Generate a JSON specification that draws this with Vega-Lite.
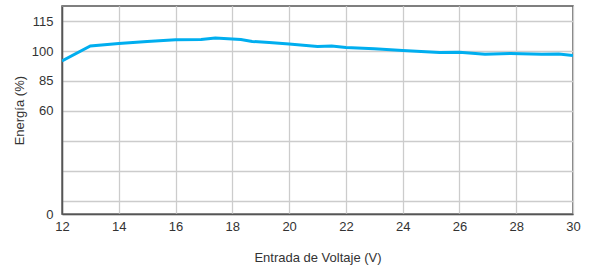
{
  "$schema": "https://vega.github.io/schema/vega-lite/v6.json",
  "width": 511,
  "height": 208,
  "autosize": {"type": "none"},
  "padding": {"left": 62, "top": 6, "right": 17, "bottom": 57},
  "config": {
    "font": "Liberation Sans",
    "view": {"stroke": "#555555", "strokeWidth": 1.5},
    "axis": {
      "labelFont": "Liberation Sans",
      "titleFont": "Liberation Sans",
      "labelFontSize": 13,
      "titleFontSize": 13,
      "labelColor": "#333333",
      "titleColor": "#333333",
      "titleFontWeight": "normal",
      "gridColor": "#cccccc",
      "gridWidth": 1.3,
      "domainColor": "#555555",
      "domainWidth": 1.5,
      "ticks": false,
      "labelFlush": false
    }
  },
  "data": {
    "values": [
      {"v": 12, "e": 95.0},
      {"v": 13, "e": 102.5},
      {"v": 14, "e": 103.7},
      {"v": 15, "e": 104.8},
      {"v": 16, "e": 105.6},
      {"v": 16.9, "e": 105.8},
      {"v": 17.4, "e": 106.5},
      {"v": 18.3, "e": 105.7},
      {"v": 18.7, "e": 104.8},
      {"v": 19.3, "e": 104.2},
      {"v": 20, "e": 103.5},
      {"v": 21, "e": 102.2},
      {"v": 21.5, "e": 102.5},
      {"v": 22, "e": 101.8},
      {"v": 23, "e": 101.1},
      {"v": 24, "e": 100.2},
      {"v": 25.3, "e": 99.2},
      {"v": 26, "e": 99.4},
      {"v": 26.9, "e": 98.4},
      {"v": 27.8, "e": 98.8},
      {"v": 28.9, "e": 98.4},
      {"v": 29.5, "e": 98.5},
      {"v": 30, "e": 97.7}
    ]
  },
  "mark": {"type": "line", "color": "#00aeef", "strokeWidth": 3, "clip": true},
  "encoding": {
    "x": {
      "field": "v",
      "type": "quantitative",
      "title": "Entrada de Voltaje (V)",
      "scale": {"domain": [12, 30], "nice": false, "zero": false},
      "axis": {
        "values": [12, 14, 16, 18, 20, 22, 24, 26, 28, 30],
        "labelPadding": 6,
        "titlePadding": 18
      }
    },
    "y": {
      "field": "e",
      "type": "quantitative",
      "title": "Energía (%)",
      "scale": {
        "domain": [0, 15, 30, 45, 60, 85, 100, 115, 122.5],
        "range": [208.3, 194.7, 164.7, 134.7, 104.7, 74.7, 45, 15, 0],
        "nice": false,
        "zero": false
      },
      "axis": {
        "values": [0, 15, 30, 45, 60, 85, 100, 115],
        "labelExpr": "datum.value == 15 || datum.value == 30 || datum.value == 45 ? '' : datum.label",
        "labelPadding": 9,
        "titlePadding": 5
      }
    }
  }
}
